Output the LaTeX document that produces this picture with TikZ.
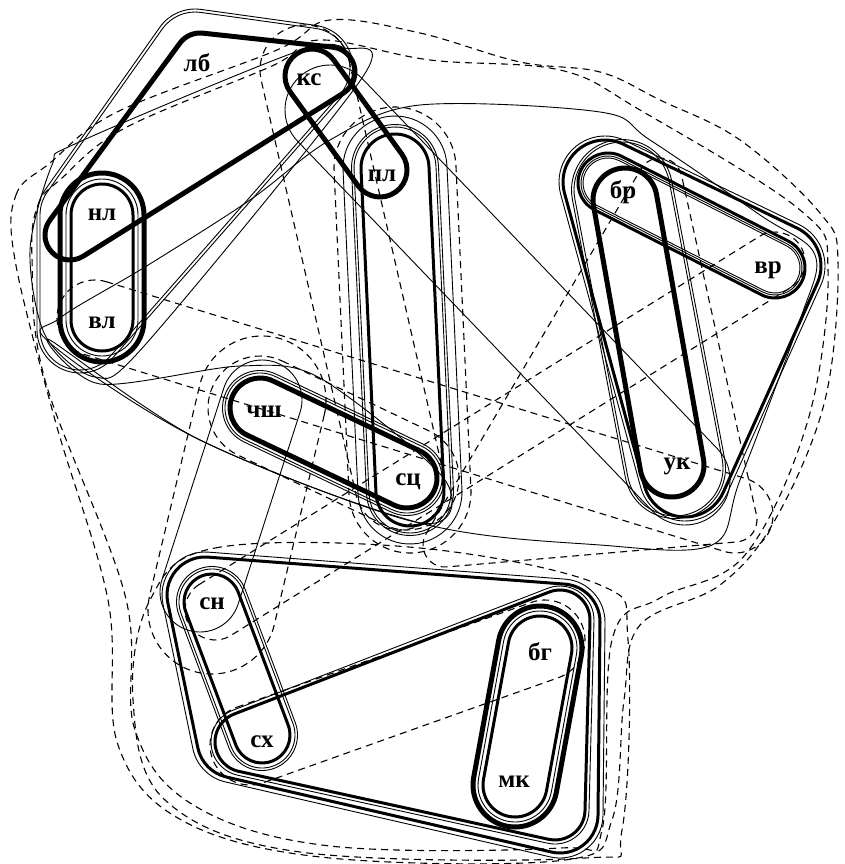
\documentclass[tikz,border=0pt]{standalone}
\usepackage{fontspec}
\setmainfont{Liberation Serif}
\usetikzlibrary{calc}

% one step of a hull: side offset from #1--#2, then arc round #2 towards #2--#3
\newcommand\hullturn[4]{%
  let \p1=(#1), \p2=(#2), \p3=(#3),
      \n1={atan2((\y2)-(\y1),(\x2)-(\x1))},
      \n2={atan2((\y3)-(\y2),(\x3)-(\x2))},
      \n3={mod(\n2-\n1+720,360)-360} in
  -- ($(\p2)+(\n1+90:#4pt)$) arc[start angle=\n1+90, delta angle=\n3, radius=#4pt]}
\newcommand\hulltwo[4][]{%
  \draw[#1] ($(#2)!#4pt!90:(#3)$) \hullturn{#2}{#3}{#2}{#4} \hullturn{#3}{#2}{#3}{#4} -- cycle;}
\newcommand\hullthree[5][]{%
  \draw[#1] ($(#2)!#5pt!90:(#3)$) \hullturn{#2}{#3}{#4}{#5} \hullturn{#3}{#4}{#2}{#5}
    \hullturn{#4}{#2}{#3}{#5} -- cycle;}
\newcommand\hullfour[6][]{%
  \draw[#1] ($(#2)!#6pt!90:(#3)$) \hullturn{#2}{#3}{#4}{#6} \hullturn{#3}{#4}{#5}{#6}
    \hullturn{#4}{#5}{#2}{#6} \hullturn{#5}{#2}{#3}{#6} -- cycle;}

\tikzset{
  heavy/.style={line width=5pt, line join=round},
  bold/.style={line width=3pt, line join=round},
  fine/.style={line width=0.9pt},
  dashline/.style={line width=1.1pt, dash pattern=on 7pt off 5pt},
  lbl/.style={font=\fontsize{25}{25}\selectfont\bfseries, inner sep=0pt},
}

\begin{document}
\begin{tikzpicture}[x=1pt, y=-1pt]
  \useasboundingbox (0,0) rectangle (845,864);
  % labels
  \node[lbl] (lb)   at (197,63)  {лб};
  \node[lbl] (ks)   at (309,80)  {кс};
  \node[lbl] (nl)   at (102,215) {нл};
  \node[lbl] (vl)   at (102,323) {вл};
  \node[lbl] (pl)   at (382,176) {пл};
  \node[lbl] (br)   at (623,192) {бр};
  \node[lbl] (vr)   at (768,270) {вр};
  \node[lbl] (uk)   at (677,466) {ук};
  \node[lbl] (chsh) at (264,412) {чш};
  \node[lbl] (sc)   at (408,482) {сц};
  \node[lbl] (sn)   at (212,604) {сн};
  \node[lbl] (bg)   at (540,652) {бг};
  \node[lbl] (skh)  at (262,742) {сх};
  \node[lbl] (mk)   at (514,782) {мк};

  % top-left group
  \hulltwo[heavy]{102,215}{102,320}{42}
  \hulltwo[fine]{102,215}{102,320}{36}
  \hulltwo[bold]{102,215}{102,320}{31}
  \hulltwo[heavy]{312,76}{380,170}{27}
  \hullthree[heavy]{70,235}{200,58}{330,72}{25}
  \hullfour[fine]{80,330}{80,215}{195,52}{310,68}{40}
  \hullfour[fine]{80,330}{80,215}{195,52}{310,68}{43}
  \draw[fine] plot[smooth cycle, tension=0.5] coordinates {(30,250) (52,165) (77,143)
    (293,53) (345,48) (362,78) (145,345) (95,377) (45,335)};

  % centre
  \hulltwo[heavy]{260,408}{407,478}{30}
  \hulltwo[fine]{260,408}{407,478}{35}
  \hulltwo[fine]{260,408}{407,478}{37.5}
  \hulltwo[dashline]{260,408}{407,478}{52}
  \hulltwo[bold]{395,168}{410,492}{34}
  \hulltwo[fine]{395,168}{410,492}{41}
  \hulltwo[fine]{395,168}{410,492}{43.5}
  \hulltwo[fine]{395,168}{410,492}{52}
  \hulltwo[dashline]{395,168}{410,492}{61}
  \hulltwo[fine]{262,400}{200,592}{40}
  \hulltwo[dashline]{262,400}{212,610}{64}
  \hulltwo[fine]{330,110}{685,480}{45}
  \hulltwo[dashline]{305,70}{400,485}{45}
  \draw[fine] plot[smooth cycle, tension=0.5] coordinates {(50,340) (100,384) (240,366)
    (320,378) (445,480) (420,523) (200,440)};

  % right group
  \hulltwo[heavy]{625,200}{672,465}{32}
  \hulltwo[bold]{608,183}{775,268}{30}
  \hulltwo[fine]{608,183}{775,268}{25}
  \hulltwo[fine]{608,183}{775,268}{27}
  \hullthree[bold]{605,182}{779,266}{685,475}{42}
  \hullthree[fine]{605,182}{779,266}{685,475}{46}
  \hulltwo[fine]{622,190}{675,468}{48}
  \hulltwo[fine]{622,190}{675,468}{50.5}
  \hullthree[dashline]{445,545}{660,180}{735,520}{22}

  % bottom group
  \hulltwo[heavy]{540,648}{515,785}{42}
  \hulltwo[fine]{540,648}{515,785}{37}
  \hulltwo[bold]{540,648}{515,785}{32}
  \hulltwo[bold]{212,602}{262,735}{28}
  \hulltwo[fine]{212,602}{262,735}{33}
  \hulltwo[fine]{212,602}{262,735}{35.5}
  \hullfour[bold]{205,595}{562,622}{560,815}{235,740}{38}
  \hullfour[fine]{205,595}{562,622}{560,815}{235,740}{43}
  \hullthree[bold]{245,742}{560,620}{555,810}{30}
  \hullthree[fine]{245,742}{560,620}{555,810}{34}
  \hulltwo[dashline]{250,745}{545,640}{40}

  % long crossing loops
  \hulltwo[dashline]{95,318}{735,515}{38}
  \hulltwo[dashline]{215,610}{775,262}{30}
  \draw[fine] plot[smooth cycle, tension=0.55] coordinates {(50,343) (200,440) (420,523)
    (600,545) (712,545) (740,480) (800,320) (815,255) (760,215) (650,140) (600,112)
    (420,105) (330,140) (250,200) (145,267) (60,318)};

  % outer dashed rings
  \draw[dashline] plot[smooth cycle, tension=0.6] coordinates {(15,260) (16,195) (50,163)
    (117,112) (277,50) (330,20) (420,33) (520,62) (600,72) (660,100) (740,140) (820,213)
    (838,262) (825,400) (775,520) (720,585) (640,625) (624,700) (612,820) (565,860)
    (330,858) (185,822) (118,745) (108,600) (55,420)};
  \draw[dashline] plot[smooth cycle, tension=0.6] coordinates {(32,258) (38,205) (62,178)
    (125,128) (272,66) (320,40) (430,60) (560,70) (640,110) (800,210) (828,270) (808,420)
    (745,555) (660,598) (612,640) (602,830) (560,848) (330,846) (195,806) (135,730)
    (125,595) (45,380)};
  \draw[dashline] plot[smooth cycle, tension=0.6] coordinates {(150,600) (215,548)
    (420,548) (600,585) (628,640) (622,830) (585,858) (300,852) (165,800) (133,700)};
\end{tikzpicture}
\end{document}
